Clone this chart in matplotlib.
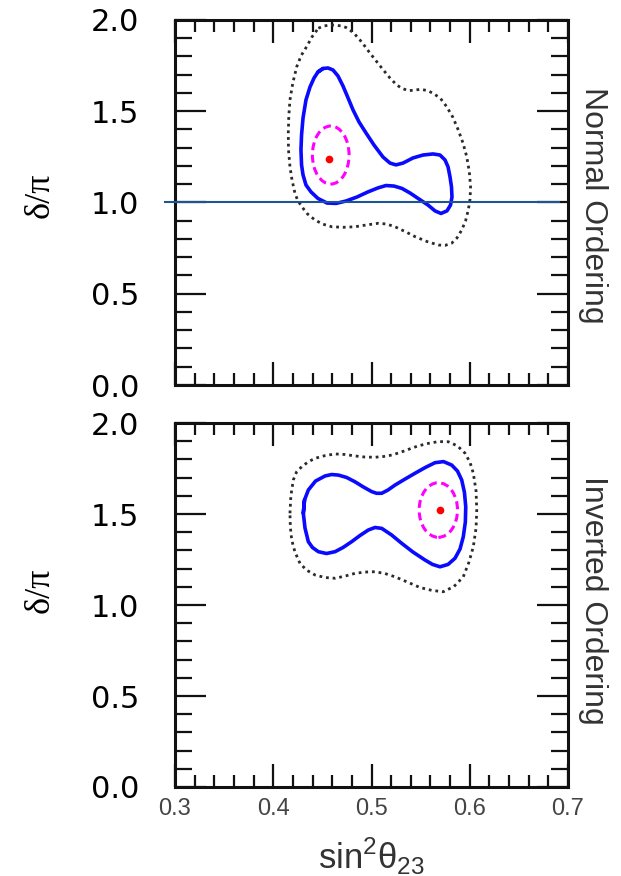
import matplotlib
matplotlib.use('Agg')
import matplotlib.pyplot as plt
import numpy as np
from matplotlib.patches import Ellipse
from matplotlib.ticker import MultipleLocator

plt.rcParams['font.family'] = 'DejaVu Sans'
plt.rcParams['mathtext.fontset'] = 'custom'
plt.rcParams['mathtext.rm'] = 'Liberation Sans'

# axis ticks
x_ticks = [0.3, 0.4, 0.5, 0.6, 0.7]
x_tick_labels = ['0.3', '0.4', '0.5', '0.6', '0.7']
y_ticks = [0.0, 0.5, 1.0, 1.5, 2.0]
y_tick_labels = ['0.0', '0.5', '1.0', '1.5', '2.0']

# Normal ordering: 1 sigma (solid blue), 2 sigma (dotted), best fit + small contour
no_blue_x = [0.4455, 0.4506, 0.4557, 0.4608, 0.4659, 0.4710, 0.4761, 0.4812, 0.4873,
             0.4944, 0.5025, 0.5117, 0.5188, 0.5249, 0.5321, 0.5422, 0.5524, 0.5626,
             0.5697, 0.5748, 0.5779, 0.5799, 0.5814, 0.5819, 0.5804, 0.5768, 0.5707,
             0.5646, 0.5575, 0.5483, 0.5392, 0.5310, 0.5229, 0.5148, 0.5066, 0.4964,
             0.4852, 0.4740, 0.4639, 0.4547, 0.4455, 0.4384, 0.4333, 0.4303, 0.4288,
             0.4282, 0.4288, 0.4303, 0.4333, 0.4374, 0.4415]
no_blue_y = [1.715, 1.734, 1.737, 1.726, 1.693, 1.638, 1.573, 1.507, 1.441,
             1.381, 1.315, 1.249, 1.216, 1.206, 1.216, 1.244, 1.260, 1.266,
             1.260, 1.233, 1.195, 1.140, 1.085, 1.030, 0.986, 0.954, 0.940,
             0.954, 0.986, 1.019, 1.052, 1.077, 1.090, 1.093, 1.080, 1.058,
             1.030, 1.008, 0.995, 0.997, 1.022, 1.058, 1.096, 1.151, 1.206,
             1.288, 1.370, 1.463, 1.562, 1.633, 1.682]
no_dot_x = [0.4459, 0.4517, 0.4578, 0.4639, 0.4697, 0.4740, 0.4781, 0.4832, 0.4883,
            0.4934, 0.4985, 0.5051, 0.5120, 0.5188, 0.5256, 0.5310, 0.5375, 0.5433,
            0.5494, 0.5565, 0.5629, 0.5702, 0.5765, 0.5829, 0.5883, 0.5931, 0.5969,
            0.5995, 0.6008, 0.6003, 0.5985, 0.5957, 0.5918, 0.5870, 0.5816, 0.5748,
            0.5680, 0.5565, 0.5443, 0.5341, 0.5239, 0.5153, 0.5069, 0.4949, 0.4832,
            0.4710, 0.4595, 0.4501, 0.4425, 0.4349, 0.4290, 0.4247, 0.4221, 0.4191,
            0.4170, 0.4155, 0.4153, 0.4158, 0.4170, 0.4199, 0.4239, 0.4284, 0.4340,
            0.4394]
no_dot_y = [1.955, 1.967, 1.973, 1.971, 1.967, 1.959, 1.945, 1.921, 1.890,
            1.855, 1.818, 1.773, 1.726, 1.682, 1.644, 1.625, 1.613, 1.615,
            1.620, 1.614, 1.598, 1.570, 1.525, 1.466, 1.397, 1.326, 1.251,
            1.170, 1.087, 1.019, 0.959, 0.899, 0.849, 0.806, 0.777, 0.765,
            0.767, 0.786, 0.813, 0.841, 0.867, 0.882, 0.886, 0.877, 0.867,
            0.864, 0.867, 0.882, 0.904, 0.937, 0.977, 1.014, 1.050, 1.123,
            1.196, 1.288, 1.379, 1.471, 1.562, 1.655, 1.744, 1.805, 1.854,
            1.907]
no_best = (0.4567, 1.237)
no_small_center = (0.4585, 1.260)
no_small_size = (0.0373, 0.318)

# Inverted ordering
io_blue_x = [0.4306, 0.4318, 0.4357, 0.4430, 0.4527, 0.4593, 0.4662, 0.4746, 0.4832,
             0.4919, 0.5002, 0.5051, 0.5104, 0.5168, 0.5239, 0.5341, 0.5443, 0.5545,
             0.5646, 0.5733, 0.5816, 0.5875, 0.5918, 0.5946, 0.5959, 0.5955, 0.5934,
             0.5901, 0.5850, 0.5779, 0.5697, 0.5621, 0.5545, 0.5422, 0.5307, 0.5204,
             0.5104, 0.5036, 0.4967, 0.4883, 0.4798, 0.4710, 0.4629, 0.4542, 0.4459,
             0.4399, 0.4357, 0.4323]
io_blue_y = [1.504, 1.577, 1.632, 1.681, 1.709, 1.717, 1.714, 1.701, 1.677,
             1.648, 1.623, 1.614, 1.614, 1.632, 1.659, 1.692, 1.724, 1.755,
             1.782, 1.788, 1.769, 1.736, 1.687, 1.618, 1.540, 1.456, 1.375,
             1.308, 1.257, 1.223, 1.210, 1.223, 1.247, 1.291, 1.339, 1.385,
             1.421, 1.426, 1.412, 1.382, 1.348, 1.316, 1.293, 1.283, 1.293,
             1.316, 1.348, 1.423]
io_dot_x = [0.4170, 0.4179, 0.4204, 0.4237, 0.4290, 0.4354, 0.4425, 0.4527, 0.4629,
            0.4731, 0.4832, 0.4934, 0.5036, 0.5122, 0.5206, 0.5290, 0.5375, 0.5473,
            0.5578, 0.5682, 0.5782, 0.5875, 0.5952, 0.6003, 0.6036, 0.6064, 0.6071,
            0.6064, 0.6036, 0.5992, 0.5934, 0.5840, 0.5731, 0.5616, 0.5494, 0.5366,
            0.5239, 0.5137, 0.5036, 0.4934, 0.4832, 0.4731, 0.4629, 0.4527, 0.4425,
            0.4338, 0.4272, 0.4221, 0.4188, 0.4174]
io_dot_y = [1.504, 1.599, 1.687, 1.731, 1.760, 1.786, 1.806, 1.821, 1.830,
            1.827, 1.819, 1.813, 1.812, 1.816, 1.824, 1.838, 1.855, 1.874,
            1.888, 1.898, 1.897, 1.874, 1.834, 1.783, 1.724, 1.626, 1.522,
            1.423, 1.320, 1.236, 1.155, 1.102, 1.073, 1.080, 1.096, 1.126,
            1.155, 1.173, 1.183, 1.181, 1.174, 1.159, 1.147, 1.151, 1.165,
            1.192, 1.229, 1.291, 1.357, 1.429]
io_best = (0.5697, 1.522)
io_small_center = (0.5680, 1.522)
io_small_size = (0.0390, 0.300)

# hand-drawn reference line at delta/pi = 1 (top panel)
ref_line_x = [0.2898, 0.6908]
ref_line_y = [1.0, 1.0]

fig = plt.figure(figsize=(6.21, 8.76), dpi=100)
ax1 = fig.add_axes([0.2818, 0.5605, 0.6329, 0.4167])
ax2 = fig.add_axes([0.2818, 0.1016, 0.6329, 0.4155])

panels = [
    (ax1, no_blue_x, no_blue_y, no_dot_x, no_dot_y, no_best, no_small_center, no_small_size, 'Normal Ordering', 0.493, 0.52),
    (ax2, io_blue_x, io_blue_y, io_dot_x, io_dot_y, io_best, io_small_center, io_small_size, 'Inverted Ordering', 0.514, 0.54),
]

for ax, bx, by, dx, dy, best, sc, ss, name, name_y, lab_y in panels:
    ax.plot(dx + dx[:1], dy + dy[:1], color='#2a2a2a', lw=2.0,
            linestyle=(0, (1, 1.4)), dash_capstyle='butt')
    ax.plot(bx + bx[:2], by + by[:2], color='#0a0aff', lw=2.6,
            solid_joinstyle='round', solid_capstyle='round')
    ax.add_patch(Ellipse(sc, ss[0], ss[1], fill=False, edgecolor='#ff00ff',
                         lw=2.2, linestyle=(0, (2.6, 1.5))))
    ax.plot([best[0]], [best[1]], 'o', color='red', ms=5.5, mec='none')

    ax.set_xlim(0.3, 0.7)
    ax.set_ylim(0.0, 2.0)
    ax.set_xticks(x_ticks, x_tick_labels, fontfamily='Liberation Sans', color='#444444')
    ax.set_yticks(y_ticks, y_tick_labels)
    ax.xaxis.set_minor_locator(MultipleLocator(0.02))
    ax.yaxis.set_minor_locator(MultipleLocator(0.1))
    ax.tick_params(axis='both', which='both', direction='in', top=True, right=True,
                   color='#111111')
    ax.tick_params(axis='x', which='major', length=16.5, width=1.6, pad=8, labelsize=17)
    ax.tick_params(axis='x', which='minor', length=8.5, width=1.6)
    ax.tick_params(axis='y', which='major', length=22, width=1.6, pad=26, labelsize=22)
    ax.tick_params(axis='y', which='minor', length=12, width=1.6)
    for sp in ax.spines.values():
        sp.set_linewidth(2.2)
        sp.set_color('#111111')

    ax.set_ylabel('δ/π', fontsize=26, fontfamily='Liberation Serif')
    ax.yaxis.set_label_coords(-0.30, lab_y)
    ax.text(1.064, name_y, name, transform=ax.transAxes, rotation=270,
            ha='center', va='center', fontsize=23, fontfamily='Liberation Sans',
            color='#333333')

ax1.tick_params(axis='x', labelbottom=False)
ax1.plot(ref_line_x, ref_line_y, color='#1d5592', lw=1.5, clip_on=False, zorder=5)

ax2.set_xlabel(r'sin$^\mathregular{2}$θ$_\mathregular{23}$', fontsize=25,
               fontfamily='Liberation Sans', color='#333333')
ax2.xaxis.set_label_coords(0.5, -0.135)

fig.savefig('out.png', dpi=100)
